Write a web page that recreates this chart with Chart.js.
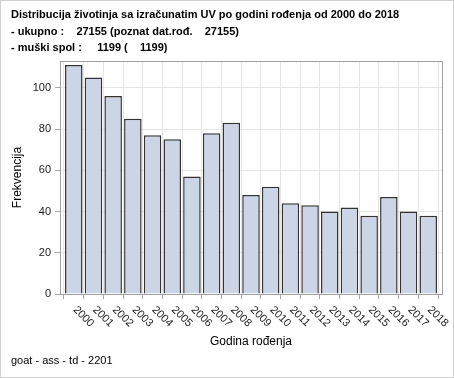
<!DOCTYPE html>
<html>
<head>
<meta charset="utf-8">
<script src="https://cdn.jsdelivr.net/npm/chart.js@4"></script>
<style>
    html, body { margin: 0; padding: 0; background: #fff; }
    #wrap { width: 454px; height: 378px; }
</style>
</head>
<body>
<div id="wrap"><canvas id="chart" width="454" height="378"></canvas></div>
<script>
// data
const years = ['2000', '2001', '2002', '2003', '2004', '2005', '2006', '2007', '2008', '2009',
               '2010', '2011', '2012', '2013', '2014', '2015', '2016', '2017', '2018'];
const counts = [111, 105, 96, 85, 77, 75, 57, 78, 83, 48, 52, 44, 43, 40, 42, 38, 47, 40, 38];
const yTicks = [0, 20, 40, 60, 80, 100];

const titleLines = [
    'Distribucija životinja sa izračunatim UV po godini rođenja od 2000 do 2018',
    '- ukupno :    27155 (poznat dat.rođ.    27155)',
    '- muški spol :     1199 (    1199)'
];
const footerText = 'goat - ass - td - 2201';
const xTitle = 'Godina rođenja';
const yTitle = 'Frekvencija';

const FONT = '"Liberation Sans", Arial, sans-serif';

// texts, frame and rotated year labels
const decorPlugin = {
    id: 'decor',
    afterDraw(chart) {
        const ctx = chart.ctx;
        const area = chart.chartArea;
        const xs = chart.scales.x;
        ctx.save();

        // outer border
        ctx.strokeStyle = '#cfcfcf';
        ctx.lineWidth = 1;
        ctx.strokeRect(0.5, 0.5, chart.width - 1, chart.height - 1);

        // plot frame
        ctx.strokeStyle = '#a0a0a0';
        ctx.strokeRect(Math.round(area.left) + 0.5, Math.round(area.top) + 0.5,
            Math.round(area.right - area.left), Math.round(area.bottom - area.top));

        // title
        ctx.fillStyle = '#000';
        ctx.font = 'bold 11px ' + FONT;
        ctx.textAlign = 'left';
        ctx.textBaseline = 'alphabetic';
        titleLines.forEach((line, i) => ctx.fillText(line, 11, 18 + i * 16.5));

        // footer
        ctx.font = '11px ' + FONT;
        ctx.fillText(footerText, 11, 364);

        // x labels rotated down-right
        ctx.fillStyle = '#222';
        ctx.font = '11px ' + FONT;
        years.forEach((y, i) => {
            const px = xs.getPixelForValue(i);
            ctx.save();
            ctx.translate(px + 1, area.bottom + 14);
            ctx.rotate(Math.PI / 4);
            ctx.textAlign = 'left';
            ctx.textBaseline = 'middle';
            ctx.fillText(y, 0, 0);
            ctx.restore();
        });

        // axis titles
        ctx.fillStyle = '#000';
        ctx.font = '12px ' + FONT;
        ctx.textAlign = 'center';
        ctx.textBaseline = 'middle';
        ctx.fillText(xTitle, (area.left + area.right) / 2, 342);
        ctx.save();
        ctx.translate(18, (area.top + area.bottom) / 2);
        ctx.rotate(-Math.PI / 2);
        ctx.fillText(yTitle, 0, 0);
        ctx.restore();

        ctx.restore();
    }
};

new Chart(document.getElementById('chart').getContext('2d'), {
    type: 'bar',
    data: {
        datasets: [{
            data: counts.map((v, i) => ({ x: i, y: v })),
            backgroundColor: '#cbd5e6',
            borderColor: '#333',
            borderWidth: 1.5,
            barPercentage: 0.89,
            categoryPercentage: 1
        }]
    },
    options: {
        responsive: false,
        animation: false,
        layout: { padding: { left: 0, top: 61, right: 12, bottom: 0 } },
        plugins: {
            legend: { display: false },
            title: { display: false },
            tooltip: { enabled: false }
        },
        scales: {
            x: {
                type: 'linear',
                min: -0.7,
                max: years.length - 1 + 0.7,
                offset: false,
                grid: { color: '#e6e6e6', tickColor: '#a8a8a8', tickLength: 5 },
                border: { color: '#a0a0a0' },
                afterBuildTicks(scale) { scale.ticks = years.map((_, i) => ({ value: i })); },
                ticks: { display: true, color: 'rgba(0,0,0,0)', maxRotation: 0, autoSkip: false },
                afterFit(scale) { scale.height = 84; }
            },
            y: {
                min: 0,
                max: 113,
                grid: { color: '#e6e6e6', tickColor: '#a8a8a8', tickLength: 5 },
                border: { color: '#a0a0a0' },
                afterBuildTicks(scale) { scale.ticks = yTicks.map(v => ({ value: v })); },
                ticks: {
                    color: '#222',
                    font: { family: FONT, size: 11 },
                    padding: 4
                },
                afterFit(scale) { scale.width = 60; }
            }
        }
    },
    plugins: [decorPlugin]
});
</script>
</body>
</html>
